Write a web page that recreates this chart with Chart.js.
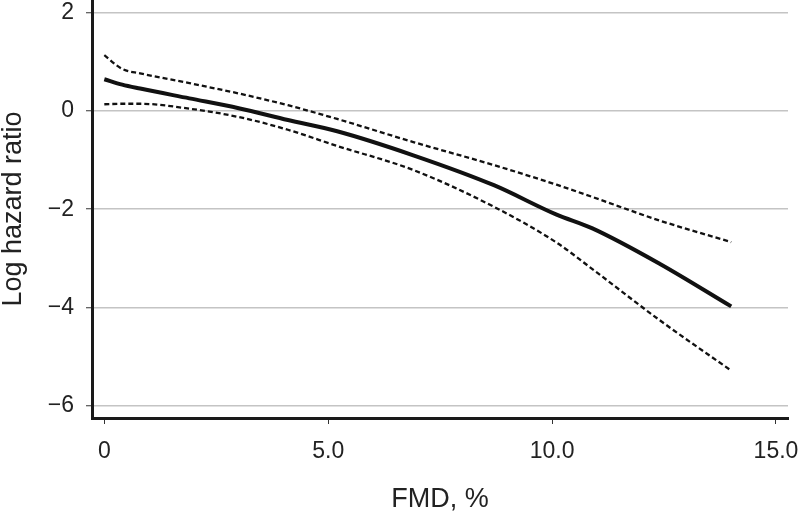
<!DOCTYPE html>
<html>
<head>
<meta charset="utf-8">
<script src="https://cdn.jsdelivr.net/npm/chart.js@4/dist/chart.umd.min.js"></script>
<style>
  html, body { margin: 0; padding: 0; background: #fff; }
</style>
</head>
<body>
<canvas id="hrChart" width="800" height="515"></canvas>
<script>
const fmd = [0, 0.4, 0.8, 1.9, 3.0, 4.1, 5.2, 6.9, 8.7, 10.1, 10.9, 12.4, 14.0];
// Estimated log hazard ratio and its confidence limits
const logHR = [0.65, 0.54, 0.46, 0.26, 0.06, -0.18, -0.41, -0.90, -1.51, -2.11, -2.39, -3.11, -3.98];
const upperCI = [1.14, 0.86, 0.77, 0.57, 0.36, 0.12, -0.16, -0.63, -1.10, -1.50, -1.75, -2.23, -2.67];
const lowerCI = [0.14, 0.15, 0.15, 0.05, -0.12, -0.38, -0.71, -1.20, -1.95, -2.68, -3.22, -4.26, -5.29];

const xTicks = [0, 5, 10, 15];
const yTicks = [-6, -4, -2, 0, 2];

const FONT = "'Liberation Sans', Arial, Helvetica, sans-serif";

function toPoints(ys) {
    return fmd.map((x, i) => ({ x: x, y: ys[i] }));
}

function lineSet(label, ys, width, dash) {
    return {
        label: label,
        data: toPoints(ys),
        showLine: true,
        borderColor: '#111',
        borderWidth: width,
        borderDash: dash,
        pointRadius: 0,
        fill: false,
        cubicInterpolationMode: 'monotone'
    };
}

const ctx = document.getElementById('hrChart').getContext('2d');
new Chart(ctx, {
    type: 'scatter',
    data: {
        datasets: [
            lineSet('Upper 95% CI', upperCI, 2.3, [5, 3]),
            lineSet('Lower 95% CI', lowerCI, 2.3, [5, 3]),
            lineSet('Log hazard ratio', logHR, 4, [])
        ]
    },
    options: {
        responsive: false,
        animation: false,
        layout: { padding: { top: 0, right: 12, bottom: 0, left: 0 } },
        plugins: {
            legend: { display: false },
            tooltip: { enabled: false }
        },
        scales: {
            x: {
                type: 'linear',
                min: -0.275,
                max: 15.268,
                afterBuildTicks: function(scale) {
                    scale.ticks = xTicks.map(v => ({ value: v }));
                },
                afterFit: function(scale) {
                    scale.height = 97;
                    scale.paddingLeft = 0;
                    scale.paddingRight = 0;
                },
                border: { color: '#1a1a1a', width: 3 },
                grid: {
                    drawOnChartArea: false,
                    drawTicks: true,
                    tickLength: 6,
                    tickColor: '#333',
                    tickWidth: 1
                },
                ticks: {
                    padding: 14,
                    color: '#222',
                    font: { family: FONT, size: 23 },
                    maxRotation: 0,
                    callback: function(value) {
                        return value === 0 ? '0' : value.toFixed(1);
                    }
                },
                title: {
                    display: true,
                    text: 'FMD, %',
                    color: '#222',
                    font: { family: FONT, size: 27, lineHeight: 1 },
                    padding: { top: 0, bottom: 2 }
                }
            },
            y: {
                type: 'linear',
                min: -6.255,
                max: 2.265,
                afterBuildTicks: function(scale) {
                    scale.ticks = yTicks.map(v => ({ value: v }));
                },
                afterFit: function(scale) {
                    scale.width = 92;
                    scale.paddingTop = 0;
                    scale.paddingBottom = 0;
                },
                border: { color: '#1a1a1a', width: 3 },
                grid: {
                    color: '#c4c4c4',
                    lineWidth: 1.5,
                    drawTicks: true,
                    tickLength: 6,
                    tickColor: '#333',
                    tickWidth: 1
                },
                ticks: {
                    padding: 12,
                    color: '#222',
                    font: { family: FONT, size: 23 },
                    callback: function(value) {
                        return String(value).replace('-', '\u2212');
                    }
                },
                title: {
                    display: true,
                    text: 'Log hazard ratio',
                    color: '#222',
                    font: { family: FONT, size: 27, lineHeight: 1 },
                    padding: { top: 0, bottom: 0 }
                }
            }
        }
    }
});
</script>
</body>
</html>
